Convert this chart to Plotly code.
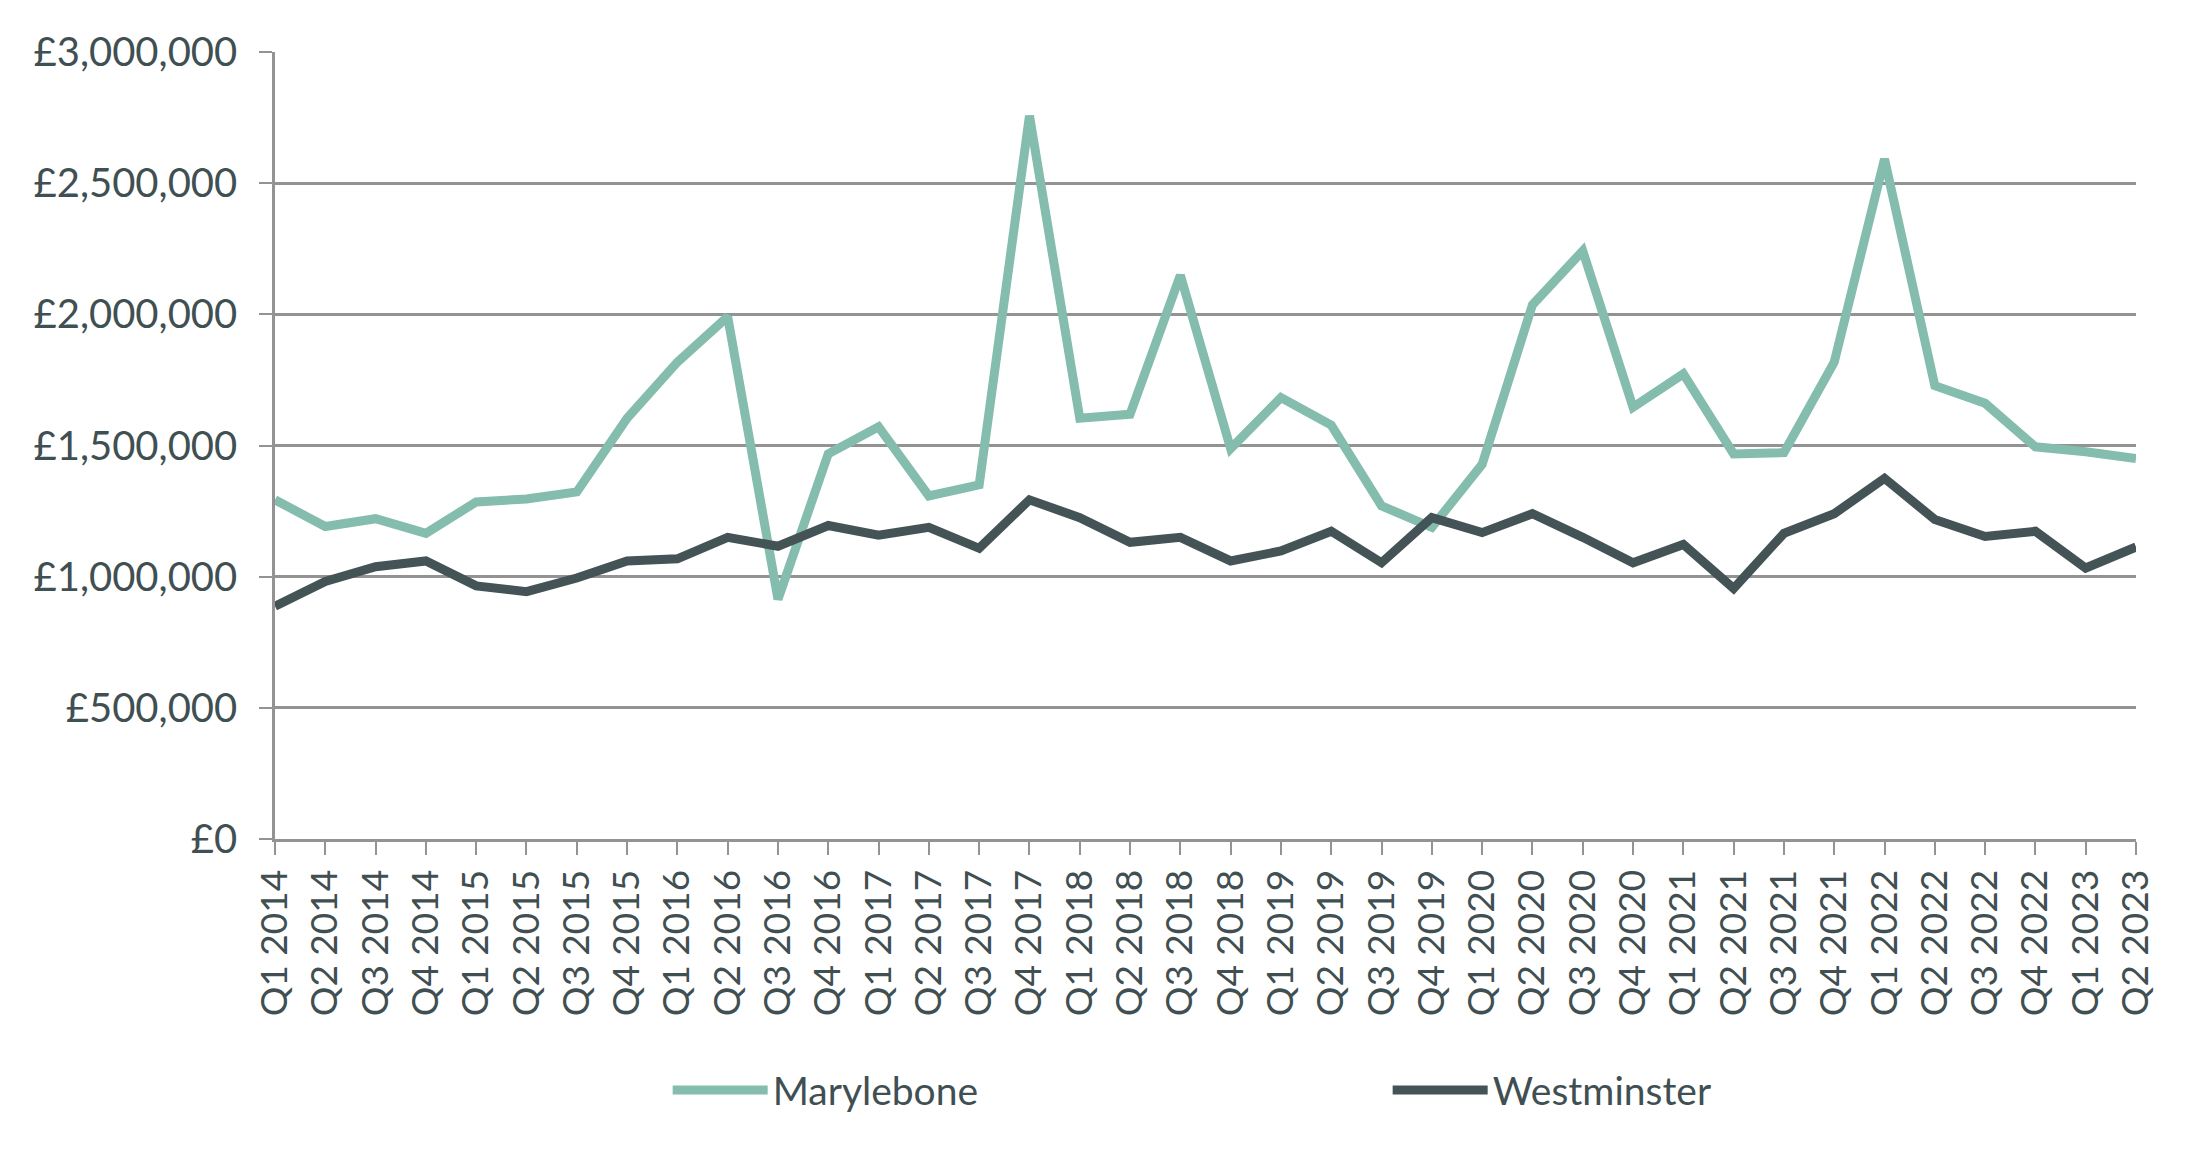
import plotly.graph_objects as go

quarters = [f"Q{q} {y}" for y in range(2014, 2024) for q in range(1, 5)][:38]

marylebone = [1293000, 1191000, 1221000, 1165000, 1285000, 1296000, 1323000, 1604000,
              1818000, 1991000, 914000, 1468000, 1571000, 1308000, 1350000, 2757000,
              1604000, 1619000, 2149000, 1488000, 1683000, 1578000, 1270000, 1188000,
              1428000, 2036000, 2242000, 1646000, 1773000, 1468000, 1473000, 1818000,
              2592000, 1728000, 1661000, 1495000, 1476000, 1450000]

westminster = [887000, 982000, 1038000, 1060000, 965000, 943000, 995000, 1060000,
               1068000, 1150000, 1116000, 1195000, 1158000, 1188000, 1108000, 1293000,
               1225000, 1131000, 1150000, 1060000, 1098000, 1173000, 1053000, 1225000,
               1168000, 1240000, 1150000, 1053000, 1123000, 955000, 1165000, 1240000,
               1375000, 1218000, 1153000, 1173000, 1033000, 1113000]

series_names = ["Marylebone", "Westminster"]
colors = ["#84bcad", "#435356"]

TEXT = "#3f4f52"
GRID = "#939393"
FONT = "Lato"

fig = go.Figure()
for name, vals, col in zip(series_names, [marylebone, westminster], colors):
    fig.add_trace(go.Scatter(x=quarters, y=vals, mode="lines", name=name,
                             line=dict(color=col, width=9)))

fig.update_layout(
    width=2186, height=1155,
    paper_bgcolor="white", plot_bgcolor="white",
    margin=dict(l=275, r=50, t=52, b=316),
    font=dict(family=FONT, color=TEXT, size=39),
    showlegend=True,
    legend=dict(orientation="h", x=0.211, y=-0.319, xanchor="left", yanchor="middle",
                font=dict(size=39, color=TEXT), entrywidth=610, itemwidth=95,
                traceorder="normal"),
)
fig.update_xaxes(type="category", range=[0, len(quarters) - 1],
                 showgrid=False, showline=True, linecolor=GRID, linewidth=3,
                 ticks="outside", ticklen=13, tickwidth=2, tickcolor=GRID,
                 tickangle=-90, tickfont=dict(size=37, color=TEXT, family=FONT))
fig.update_yaxes(range=[0, 3000000], dtick=500000, tickprefix="£", tickformat=",.0f",
                 showgrid=True, gridcolor=GRID, gridwidth=2.5,
                 showline=True, linecolor=GRID, linewidth=2.5,
                 ticks="outside", ticklen=13, tickwidth=2, tickcolor=GRID,
                 ticklabelstandoff=14,
                 zeroline=False, tickfont=dict(size=40, color=TEXT, family=FONT))

fig.write_html("out.html")
